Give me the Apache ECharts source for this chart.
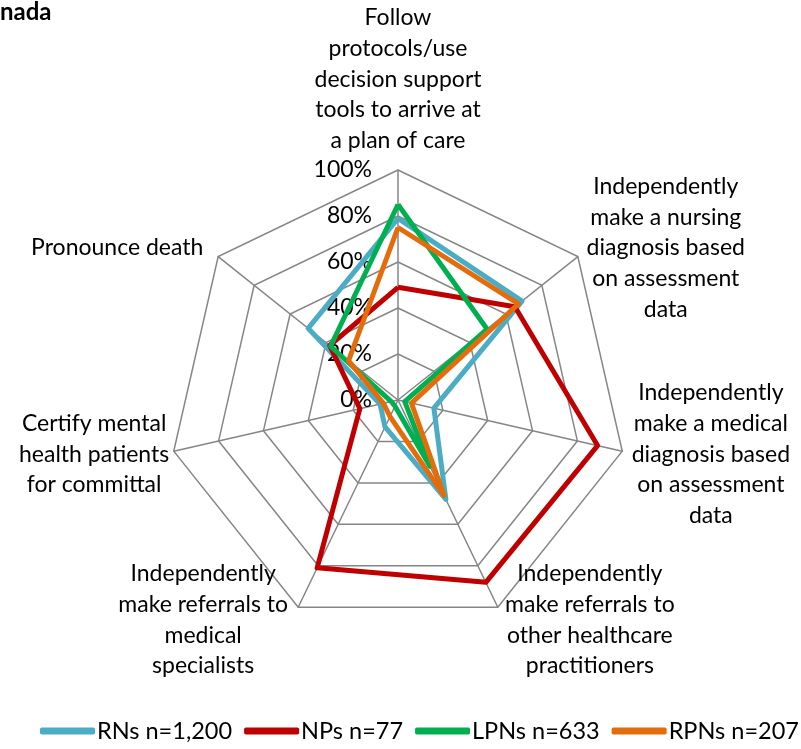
<!DOCTYPE html>
<html>
<head>
<meta charset="utf-8">
<script src="https://cdn.jsdelivr.net/npm/echarts@6/dist/echarts.min.js"></script>
<style>
  html, body { margin: 0; padding: 0; background: #fff; }
  #main { width: 801px; height: 749px; }
</style>
</head>
<body>
<div id="main"></div>
<script>
var indicatorNames = [
	'Follow\nprotocols/use\ndecision support\ntools to arrive at\na plan of care',
	'Independently\nmake a nursing\ndiagnosis based\non assessment\ndata',
	'Independently\nmake a medical\ndiagnosis based\non assessment\ndata',
	'Independently\nmake referrals to\nother healthcare\npractitioners',
	'Independently\nmake referrals to\nmedical\nspecialists',
	'Certify mental\nhealth patients\nfor committal',
	'Pronounce death'
];
var seriesNames = ['RNs n=1,200', 'NPs n=77', 'LPNs n=633', 'RPNs n=207'];
var rns  = [0.79, 0.69, 0.16, 0.48, 0.13, 0.08, 0.50];
var nps  = [0.49, 0.65, 0.89, 0.88, 0.81, 0.17, 0.38];
var lpns = [0.85, 0.495, 0.03, 0.32, 0.03, 0.03, 0.375];
var rpns = [0.75, 0.67, 0.06, 0.46, 0.08, 0.065, 0.275];
var colors = ['#4BACC6', '#C00000', '#00B050', '#E46C0A'];

// width of each name block so lines are centred like Excel does
var nameWidths = [170, 154, 150, 172, 178, 132, 180];

// echarts radar runs counter-clockwise, Excel runs clockwise
var order = [0, 6, 5, 4, 3, 2, 1];

var chart = echarts.init(document.getElementById('main'));
var font = 'Lato, "Open Sans", sans-serif';

var rich = {};
nameWidths.forEach(function(w, i){
	rich['n' + i] = { width: w, align: 'center', fontSize: 23, lineHeight: 30.7, color: '#000', fontFamily: font };
});

var allData = [rns, nps, lpns, rpns];

var option = {
	animation: false,
	title: {
		text: 'nada',
		left: 0,
		top: 0,
		padding: 0,
		textStyle: { fontSize: 24, fontWeight: 'bold', color: '#000', fontFamily: font }
	},
	legend: {
		top: 719,
		left: 40,
		padding: 0,
		itemWidth: 55,
		itemHeight: 7,
		itemGap: 12,
		icon: 'roundRect',
		textStyle: { fontSize: 23.5, color: '#000', fontFamily: font, padding: [0, 0, 0, -3] },
		data: seriesNames
	},
	radar: {
		center: [398, 400],
		radius: 230,
		startAngle: 90,
		splitNumber: 5,
		shape: 'polygon',
		nameGap: 14,
		axisName: {
			color: '#000',
			fontFamily: font,
			fontSize: 23,
			formatter: function(value){
				var idx = indicatorNames.indexOf(value);
				return value.split('\n').map(function(line){
					return '{n' + idx + '|' + line + '}';
				}).join('\n');
			},
			rich: rich
		},
		splitArea: { show: false },
		splitLine: { lineStyle: { color: '#868686', width: 1.5 } },
		axisLine: { lineStyle: { color: '#868686', width: 1.5 } },
		indicator: order.map(function(i){ return { name: indicatorNames[i], min: 0, max: 1 }; })
	},
	polar: { center: [398, 400], radius: 230 },
	angleAxis: { show: false, startAngle: 90, min: 0, max: 360 },
	radiusAxis: {
		min: 0, max: 1, interval: 0.2,
		axisLine: { show: false },
		axisTick: { show: false },
		splitLine: { show: false },
		axisLabel: {
			margin: 26,
			fontSize: 23,
			color: '#000',
			fontFamily: font,
			formatter: function(v){ return Math.round(v * 100) + '%'; }
		}
	},
	series: [{
		type: 'radar',
		symbol: 'none',
		data: allData.map(function(d, s){
			return {
				name: seriesNames[s],
				value: order.map(function(i){ return d[i]; }),
				lineStyle: { color: colors[s], width: 5 },
				itemStyle: { color: colors[s] }
			};
		})
	}]
};
chart.setOption(option);
</script>
</body>
</html>
